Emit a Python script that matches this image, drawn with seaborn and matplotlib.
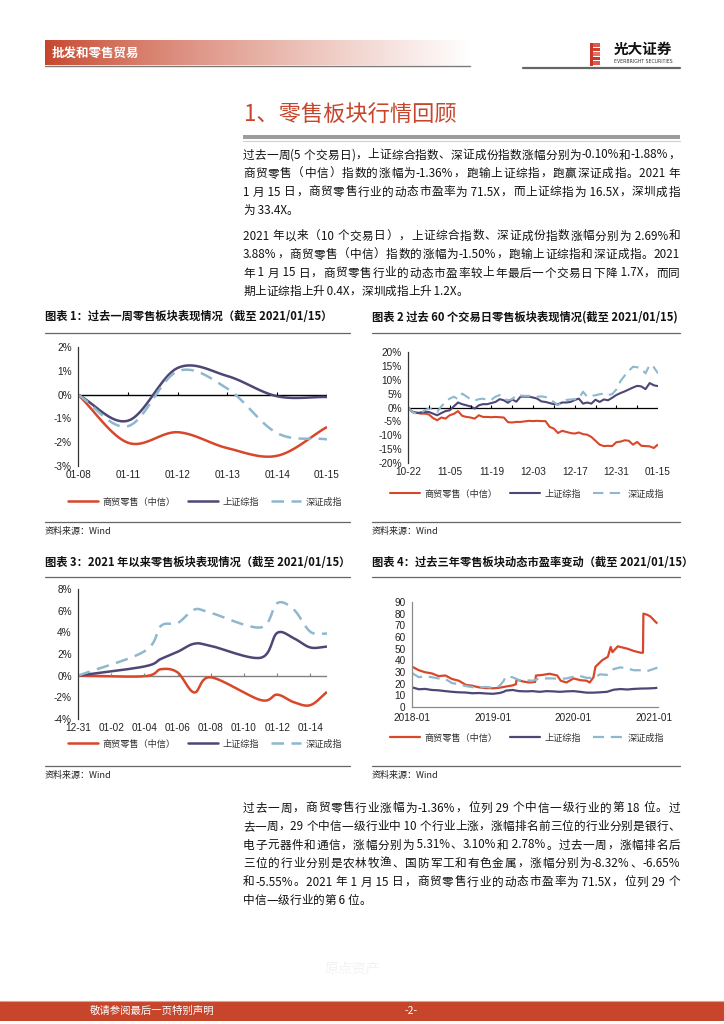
import re
import numpy as np
import pandas as pd
import matplotlib
matplotlib.use("Agg")
import matplotlib.pyplot as plt
import matplotlib.patches as mpatches
from matplotlib.lines import Line2D
from matplotlib.font_manager import FontProperties
import seaborn as sns

W, H = 724, 1024

# ---------------------------------------------------------------------------
# DATA
# ---------------------------------------------------------------------------
series_names = ["商贸零售（中信）", "上证综指", "深证成指"]

# chart 1: past week (%)
week_labels = ["01-08", "01-11", "01-12", "01-13", "01-14", "01-15"]
week_retail = [0, -2.02, -1.58, -2.25, -2.57, -1.36]
week_sh = [0, -1.10, 1.12, 0.78, -0.07, -0.10]
week_sz = [0, -1.33, 0.98, 0.25, -1.62, -1.88]

# chart 2: past 60 trading days (%)
d60_labels = ["10-22", "11-05", "11-19", "12-03", "12-17", "12-31", "01-15"]
d60_retail = [0, -1.5, -1.8, -2.2, -2.2, -2.5, -3.8, -4.6, -3.6, -4.0,
              -2.8, -2.3, -1.3, -3.0, -3.4, -3.6, -4.0, -2.8, -3.4, -3.4,
              -3.5, -3.4, -3.5, -3.6, -5.3, -5.4, -5.2, -5.2, -5.0, -4.8,
              -4.9, -4.8, -4.9, -4.9, -7.0, -7.6, -9.2, -8.4, -8.8, -9.2,
              -9.4, -9.0, -9.6, -9.8, -10.6, -12.0, -13.4, -13.9, -13.8, -13.9,
              -12.5, -12.3, -11.8, -12.0, -13.4, -12.4, -13.8, -13.9, -14.0, -14.6,
              -13.3]
d60_sh = [0, -1.6, -2.0, -1.8, -1.6, -1.6, -2.2, -2.8, -2.0, -1.3,
          -1.0, 0.4, 1.8, 1.2, 0.8, 0.4, -0.4, 0.8, 1.2, 1.2,
          1.6, 2.0, 3.0, 2.6, 1.7, 2.9, 2.1, 3.9, 3.9, 3.9,
          3.6, 3.2, 2.2, 2.0, 1.6, 1.2, 1.2, 1.8, 1.8, 2.0,
          2.7, 3.2, 1.4, 1.8, 1.4, 2.8, 2.0, 2.9, 2.6, 3.5,
          4.5, 5.2, 5.8, 6.5, 7.2, 7.8, 7.6, 6.6, 8.8, 8.0,
          7.7]
d60_sz = [0, -1.6, -2.2, -2.0, -1.0, -0.4, -0.6, -1.6, 0.4, 2.0,
          3.2, 3.9, 3.0, 5.0, 4.0, 3.0, 2.5, 3.0, 3.2, 2.7,
          2.8, 3.9, 4.5, 3.2, 2.6, 3.0, 4.5, 4.3, 4.2, 4.2,
          4.0, 3.9, 4.0, 3.8, 2.7, 2.0, 0.8, 2.0, 2.7, 2.9,
          3.0, 3.2, 5.7, 3.9, 4.2, 4.4, 4.8, 5.0, 4.5, 4.8,
          6.5, 9.5, 11.5, 13.2, 14.7, 14.5, 14.1, 12.3, 15.4, 14.5,
          12.3]

# chart 3: 2021 year to date (%)
ytd_dates = ["2020-12-31", "2021-01-04", "2021-01-05", "2021-01-06", "2021-01-07",
             "2021-01-08", "2021-01-11", "2021-01-12", "2021-01-13", "2021-01-14",
             "2021-01-15"]
ytd_retail = [0, -0.05, 0.60, 0.30, -1.55, -0.15, -2.25, -1.75, -2.45, -2.72, -1.50]
ytd_sh = [0, 0.85, 1.55, 2.20, 2.95, 2.75, 1.65, 3.95, 3.45, 2.60, 2.69]
ytd_sz = [0, 2.25, 4.60, 4.85, 6.10, 5.80, 4.45, 6.70, 6.10, 4.05, 3.88]
ytd_labels = ["12-31", "01-02", "01-04", "01-06", "01-08", "01-10", "01-12", "01-14"]

# chart 4: PE TTM, past three years
pe_red_dates = ["2018-01-02", "2018-02-01", "2018-03-01", "2018-04-01", "2018-05-01", "2018-06-01",
                "2018-07-01", "2018-08-01", "2018-09-01", "2018-10-01", "2018-11-01", "2018-12-01",
                "2019-01-02", "2019-02-01", "2019-03-01", "2019-04-01", "2019-04-16", "2019-04-19",
                "2019-05-15", "2019-06-15", "2019-07-12", "2019-07-16", "2019-08-15", "2019-09-15",
                "2019-10-20", "2019-11-05", "2019-12-01",
                "2020-01-02", "2020-02-01", "2020-03-01", "2020-03-15", "2020-04-01", "2020-04-10",
                "2020-05-10", "2020-06-05", "2020-06-18", "2020-06-26", "2020-07-20", "2020-09-01",
                "2020-10-01", "2020-11-01", "2020-11-11", "2020-11-13", "2020-12-01", "2020-12-15",
                "2021-01-04", "2021-01-15"]
pe_red = [34.5, 31.5, 29.8, 28.8, 26.5, 27.0, 24.0, 22.5, 19.0, 18.2, 16.8, 16.2,
          16.0, 16.5, 17.5, 18.5, 19.5, 23.5, 22.0, 21.0, 21.5, 27.0, 27.5, 28.5,
          27.0, 22.5, 21.0,
          24.5, 23.0, 22.5, 21.0, 25.5, 34.5, 40.0, 43.0, 51.5, 47.0, 52.0, 50.0,
          48.0, 46.5, 46.5, 80.0, 79.0, 77.5, 73.5, 71.5]
pe_idx_dates = ["2018-01-02", "2018-02-01", "2018-03-01", "2018-04-01", "2018-05-01", "2018-06-01",
                "2018-07-01", "2018-08-01", "2018-09-01", "2018-10-01", "2018-11-01", "2018-12-01",
                "2019-01-02", "2019-02-01", "2019-02-20", "2019-03-01", "2019-04-01", "2019-05-01",
                "2019-06-01", "2019-07-01", "2019-08-01", "2019-09-01", "2019-10-01", "2019-11-01",
                "2019-12-01",
                "2020-01-02", "2020-02-01", "2020-03-01", "2020-04-01", "2020-05-01", "2020-06-01",
                "2020-07-01", "2020-08-01", "2020-09-01", "2020-10-01", "2020-11-01", "2020-12-01",
                "2021-01-04", "2021-01-15"]
pe_sz = [29.0, 25.5, 26.5, 25.5, 24.5, 24.0, 20.5, 19.5, 18.0, 17.0, 16.8, 17.2,
         16.5, 18.0, 22.5, 26.0, 25.5, 23.0, 23.0, 22.5, 24.5, 24.5, 24.5, 24.0, 24.5,
         26.0, 26.5, 25.0, 25.0, 28.0, 27.5, 32.5, 34.0, 33.0, 31.5, 31.5, 30.8,
         33.0, 33.8]
pe_sh = [16.8, 15.2, 15.5, 14.6, 14.3, 13.6, 13.0, 12.6, 12.4, 11.8, 12.0, 11.6,
         11.3, 12.0, 13.0, 14.0, 14.6, 13.6, 13.4, 13.6, 13.0, 13.6, 13.4, 13.0, 13.4,
         13.6, 13.0, 12.3, 12.3, 12.6, 13.0, 14.8, 15.4, 15.0, 15.5, 15.8, 15.9,
         16.2, 16.5]
pe_year_labels = ["2018-01", "2019-01", "2020-01", "2021-01"]

# page text
para1 = ["过去一周(5 个交易日)，上证综合指数、深证成份指数涨幅分别为-0.10%和-1.88%，",
         "商贸零售（中信）指数的涨幅为-1.36%，跑输上证综指，跑赢深证成指。2021 年",
         "1 月 15 日，商贸零售行业的动态市盈率为 71.5X，而上证综指为 16.5X，深圳成指",
         "为 33.4X。"]
para2 = ["2021 年以来（10 个交易日），上证综合指数、深证成份指数涨幅分别为 2.69%和",
         "3.88%，商贸零售（中信）指数的涨幅为-1.50%，跑输上证综指和深证成指。2021",
         "年 1 月 15 日，商贸零售行业的动态市盈率较上年最后一个交易日下降 1.7X，而同",
         "期上证综指上升 0.4X，深圳成指上升 1.2X。"]
para3 = ["过去一周，商贸零售行业涨幅为-1.36%，位列 29 个中信一级行业的第 18 位。过",
         "去一周，29 个中信一级行业中 10 个行业上涨，涨幅排名前三位的行业分别是银行、",
         "电子元器件和通信，涨幅分别为 5.31%、3.10%和 2.78%。过去一周，涨幅排名后",
         "三位的行业分别是农林牧渔、国防军工和有色金属，涨幅分别为-8.32%、-6.65%",
         "和-5.55%。2021 年 1 月 15 日，商贸零售行业的动态市盈率为 71.5X，位列 29 个",
         "中信一级行业的第 6 位。"]

# ---------------------------------------------------------------------------
# STYLE
# ---------------------------------------------------------------------------
RED = "#D9472B"
PURPLE = "#4E4675"
BLUE = "#8DB8CE"
BRAND = "#C6452B"

sns.set_style("white")
plt.rcParams["font.family"] = ["Noto Sans CJK SC", "DejaVu Sans"]
plt.rcParams["axes.unicode_minus"] = False

fig = plt.figure(figsize=(W / 100, H / 100), dpi=100)
renderer = fig.canvas.get_renderer()


def fx(x):
    return x / W


def fy(y):
    return 1 - y / H


def px_axes(x0, y0, x1, y1):
    return fig.add_axes([fx(x0), fy(y1), (x1 - x0) / W, (y1 - y0) / H])


def put(x, y, s, **kw):
    kw.setdefault("va", "center")
    return fig.text(fx(x), fy(y), s, **kw)


def hline(x0, x1, y, color="#555555", lw=0.8):
    fig.add_artist(Line2D([fx(x0), fx(x1)], [fy(y), fy(y)], color=color, lw=lw,
                          transform=fig.transFigure))


def rect(x0, y0, x1, y1, color):
    fig.add_artist(mpatches.Rectangle((fx(x0), fy(y1)), (x1 - x0) / W, (y1 - y0) / H,
                                      transform=fig.transFigure, color=color, lw=0))


def smooth(x, y, n=16):
    # Catmull-Rom curve through the points (the "smoothed line" look)
    pts = np.column_stack([np.asarray(x, float), np.asarray(y, float)])
    P = np.vstack([2 * pts[0] - pts[1], pts, 2 * pts[-1] - pts[-2]])
    t = np.linspace(0, 1, n, endpoint=False)[:, None]
    out = []
    for i in range(1, len(P) - 2):
        p0, p1, p2, p3 = P[i - 1], P[i], P[i + 1], P[i + 2]
        out.append(0.5 * (2 * p1 + (-p0 + p2) * t + (2 * p0 - 5 * p1 + 4 * p2 - p3) * t ** 2
                          + (-p0 + 3 * p1 - 3 * p2 + p3) * t ** 3))
    out.append(pts[-1:])
    c = np.vstack(out)
    return c[:, 0], c[:, 1]


def draw(ax, x, y, color, lw, dashed=False):
    sns.lineplot(x=x, y=y, ax=ax, color=color, linewidth=lw, estimator=None, sort=False)
    line = ax.lines[-1]
    if dashed:
        line.set_dashes([5, 3])
    line.set_solid_capstyle("butt")
    line.set_dash_capstyle("butt")
    return line


def style_axes(ax, ylim, yticks, ylabels, axis_color="#333333"):
    ax.set_ylim(*ylim)
    ax.set_yticks(yticks)
    ax.set_yticklabels(ylabels)
    for s in ["top", "right", "bottom"]:
        ax.spines[s].set_visible(False)
    ax.spines["left"].set_color(axis_color)
    ax.spines["left"].set_linewidth(0.9)
    ax.tick_params(axis="y", direction="out", length=3, width=0.8, color=axis_color,
                   labelsize=7.2, pad=1.5, labelcolor="#222222")
    ax.tick_params(axis="x", length=0, labelsize=7.2, pad=3, labelcolor="#222222")
    ax.set_facecolor("none")
    ax.grid(False)
    ax.set_xlabel("")
    ax.set_ylabel("")


def fix_tick_font(ax):
    for lab in ax.get_xticklabels() + ax.get_yticklabels():
        lab.set_fontfamily("Liberation Sans")


def zero_ticks(ax, xs, color, px_len=3):
    y0, y1 = ax.get_ylim()
    hpx = ax.get_position().height * H
    ax.vlines(xs, 0, (y1 - y0) / hpx * px_len, color=color, lw=0.8)


def legend_at(ax, lw, cx, cy):
    handles = [Line2D([], [], color=RED, lw=lw),
               Line2D([], [], color=PURPLE, lw=lw),
               Line2D([], [], color=BLUE, lw=lw, dashes=[5, 3])]
    leg = ax.legend(handles, series_names, loc="center", bbox_to_anchor=(fx(cx), fy(cy)),
                    bbox_transform=fig.transFigure, ncol=3, frameon=False, fontsize=6.6,
                    handlelength=3.3, columnspacing=1.3, handletextpad=0.5)
    for t in leg.get_texts():
        t.set_color("#333333")


def block_frame(x0, x1, title, y_title, y_top_line, y_bot_line, y_source):
    put(x0, y_title, title, fontsize=8.1, fontweight="bold", color="#111111")
    hline(x0, x1, y_top_line, "#666666", 0.9)
    hline(x0, x1, y_bot_line, "#666666", 0.9)
    put(x0, y_source, "资料来源：Wind", fontsize=6.5, color="#222222")


def tokens(s):
    return re.findall(r"[\x00-\x7f]+|.", s)


def text_w(s, prop):
    w, _, _ = renderer.get_text_width_height_descent(s, prop, ismath=False)
    return w


def paragraph(lines, x0, x1, y0, step, size=8.4):
    prop = FontProperties(family=["Noto Sans CJK SC", "DejaVu Sans"], size=size)
    for i, line in enumerate(lines):
        y = y0 + i * step
        toks = tokens(line)
        widths = [text_w(t, prop) for t in toks]
        last = i == len(lines) - 1
        extra = 0 if last or len(toks) < 2 else (x1 - x0 - sum(widths)) / (len(toks) - 1)
        x = x0
        for t, w in zip(toks, widths):
            put(x, y, t, fontproperties=prop, color="#111111")
            x += w + extra


# ---------------------------------------------------------------------------
# PAGE HEADER
# ---------------------------------------------------------------------------
ax_band = px_axes(45, 40, 470, 65)
grad = np.linspace(0, 1, 256) ** 0.8
base = np.array([198, 69, 43]) / 255
band = base[None, None, :] * (1 - grad[None, :, None]) + grad[None, :, None]
ax_band.imshow(band, aspect="auto", extent=(0, 1, 0, 1))
ax_band.axis("off")
hline(45, 470, 66, "#7a7a7a", 1.0)
put(52, 53, "批发和零售贸易", fontsize=9, fontweight="bold", color="white")

# logo
for i, c in enumerate(["#E2574C", "#D0402F", "#E86F62", "#C8362A", "#E2574C"]):
    rect(590, 43 + i * 4.6, 600, 46.5 + i * 4.6, c)
rect(590, 43, 593, 66, "#C8362A")
put(614, 49, "光大证券", fontsize=10.5, fontweight="bold", color="#111111")
put(614, 61.5, "EVERBRIGHT SECURITIES", fontsize=3.3, color="#333333", family="DejaVu Sans")
hline(523, 680, 68, "#666666", 1.6)

# section title
put(244, 115, "1、零售板块行情回顾", fontsize=16, color=BRAND)
rect(243, 135, 680, 139, "#9c9c9c")
hline(243, 680, 141, "#cfcfcf", 0.8)

paragraph(para1, 243, 680, 155, 18.5)
paragraph(para2, 243, 680, 236, 18.5)
paragraph(para3, 243, 680, 808, 18.5)

# ---------------------------------------------------------------------------
# CHART 1: past week
# ---------------------------------------------------------------------------
block_frame(45, 350, "图表 1：过去一周零售板块表现情况（截至 2021/01/15）", 317, 333, 522, 531)
ax1 = px_axes(78, 347, 327, 466)
xw = np.arange(len(week_labels))
for vals, col, dash in [(week_retail, RED, False), (week_sh, PURPLE, False), (week_sz, BLUE, True)]:
    sx, sy = smooth(xw, vals)
    draw(ax1, sx, sy, col, 1.8, dash)
ax1.axhline(0, color="black", lw=1.0, zorder=1)
ax1.set_xlim(0, len(week_labels) - 1)
style_axes(ax1, (-3, 2), [-3, -2, -1, 0, 1, 2], [f"{v}%" for v in [-3, -2, -1, 0, 1, 2]])
zero_ticks(ax1, xw[1:], "black")
ax1.set_xticks(xw)
ax1.set_xticklabels(week_labels)
fix_tick_font(ax1)
legend_at(ax1, 1.8, 205, 502)

# ---------------------------------------------------------------------------
# CHART 2: past 60 trading days
# ---------------------------------------------------------------------------
block_frame(372, 680, "图表 2 过去 60 个交易日零售板块表现情况(截至 2021/01/15)", 317, 333, 522, 531)
ax2 = px_axes(408, 352, 658, 463)
x60 = np.arange(len(d60_retail))
draw(ax2, x60, d60_retail, RED, 1.5)
draw(ax2, x60, d60_sh, PURPLE, 1.5)
draw(ax2, x60, d60_sz, BLUE, 1.5, dashed=True)
ax2.axhline(0, color="black", lw=0.9, zorder=1)
ax2.set_xlim(0, len(d60_retail) - 1)
style_axes(ax2, (-20, 20), list(range(-20, 21, 5)), [f"{v}%" for v in range(-20, 21, 5)])
zero_ticks(ax2, x60[5::5], "black")
ax2.set_xticks(x60[::10])
ax2.set_xticklabels(d60_labels)
fix_tick_font(ax2)
legend_at(ax2, 1.5, 527, 494)

# ---------------------------------------------------------------------------
# CHART 3: 2021 YTD
# ---------------------------------------------------------------------------
block_frame(45, 350, "图表 3：2021 年以来零售板块表现情况（截至 2021/01/15）", 562, 577, 766, 775)
ax3 = px_axes(78, 589, 327, 719)
dd = pd.to_datetime(ytd_dates)
xd = (dd - dd[0]).days.values.astype(float)
for vals, col, dash in [(ytd_retail, RED, False), (ytd_sh, PURPLE, False), (ytd_sz, BLUE, True)]:
    sx, sy = smooth(xd, vals)
    draw(ax3, sx, sy, col, 1.8, dash)
ax3.axhline(0, color="#808080", lw=1.0, zorder=1)
ax3.set_xlim(0, xd[-1])
style_axes(ax3, (-4, 8), list(range(-4, 9, 2)), [f"{v}%" for v in range(-4, 9, 2)])
tick_days = np.arange(0, 15, 2)
zero_ticks(ax3, tick_days[1:], "#808080")
ax3.set_xticks(tick_days)
ax3.set_xticklabels(ytd_labels)
fix_tick_font(ax3)
legend_at(ax3, 1.8, 205, 744)

# ---------------------------------------------------------------------------
# CHART 4: PE over three years
# ---------------------------------------------------------------------------
block_frame(372, 680, "图表 4：过去三年零售板块动态市盈率变动（截至 2021/01/15）", 562, 577, 766, 775)
ax4 = px_axes(412, 602, 658, 707)
draw(ax4, pd.to_datetime(pe_red_dates), pe_red, RED, 1.6)
draw(ax4, pd.to_datetime(pe_idx_dates), pe_sh, PURPLE, 1.6)
draw(ax4, pd.to_datetime(pe_idx_dates), pe_sz, BLUE, 1.6, dashed=True)
ax4.set_xlim(pd.Timestamp("2018-01-01"), pd.Timestamp("2021-01-18"))
style_axes(ax4, (0, 90), list(range(0, 91, 10)), [str(v) for v in range(0, 91, 10)], "#8a8a8a")
ax4.spines["bottom"].set_visible(True)
ax4.spines["bottom"].set_color("#8a8a8a")
ax4.spines["bottom"].set_linewidth(0.9)
ax4.set_xticks(pd.to_datetime([s + "-01" for s in pe_year_labels]))
ax4.set_xticklabels(pe_year_labels)
ax4.tick_params(axis="x", length=3, width=0.8, color="#8a8a8a", direction="out", pad=1.5)
fix_tick_font(ax4)
legend_at(ax4, 1.6, 527, 738)

# ---------------------------------------------------------------------------
# FOOTER
# ---------------------------------------------------------------------------
put(325, 968, "原点资产", fontsize=10, color="#f3f3f3")
rect(0, 1001, W, 1021, BRAND)
hline(0, W, 1000.5, "#e0a090", 0.8)
put(90, 1011, "敬请参阅最后一页特别声明", fontsize=7.5, color="white")
put(405, 1011, "-2-", fontsize=7.5, color="white")

fig.savefig("out.png", dpi=100)
